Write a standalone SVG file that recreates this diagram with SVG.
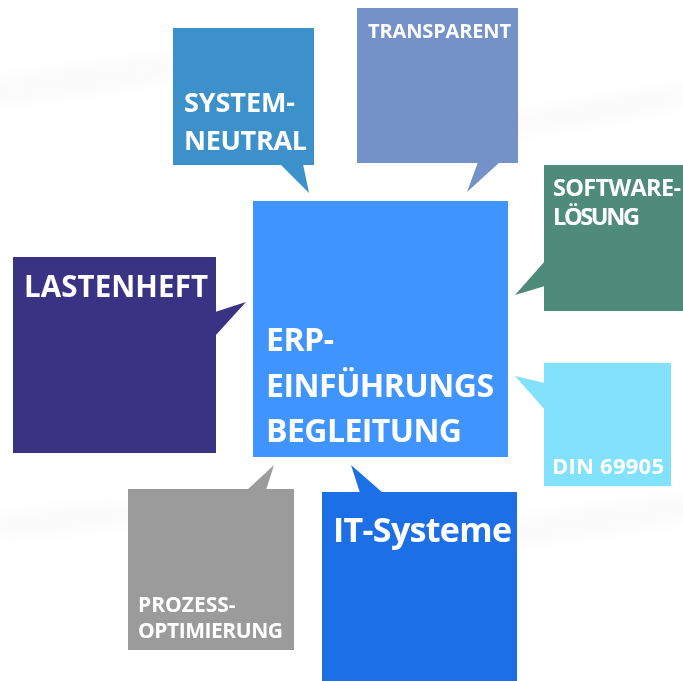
<svg xmlns="http://www.w3.org/2000/svg" width="683" height="681" viewBox="0 0 683 681">
<style>
text{font-family:"Open Sans","Liberation Sans",sans-serif;font-weight:bold;fill:#ffffff}
</style>
<defs>
<filter id="blur" x="-20%" y="-50%" width="140%" height="200%"><feGaussianBlur stdDeviation="10"/></filter>
</defs>
<rect width="683" height="681" fill="#ffffff"/>
<g id="background" filter="url(#blur)" fill="#ececee" opacity="0.35">
<ellipse cx="80" cy="80" rx="120" ry="10" transform="rotate(-8 80 80)"/>
<ellipse cx="600" cy="110" rx="110" ry="8" transform="rotate(-10 600 110)"/>
<ellipse cx="600" cy="520" rx="120" ry="10" transform="rotate(-8 600 520)"/>
<ellipse cx="60" cy="520" rx="100" ry="8" transform="rotate(-6 60 520)"/>
</g>
<g id="connectors">
<polygon points="280,164 303,164 309,193" fill="#3c91cb"/>
<polygon points="478,162 500,162 467,192" fill="#7491c8"/>
<polygon points="545,261 545,286 515,295" fill="#4e8b7b"/>
<polygon points="215,312 215,336 246,302" fill="#3a3383"/>
<polygon points="545,383 545,410 515,376" fill="#82e2fe"/>
<polygon points="247,490 266,490 274,465" fill="#9b9b9b"/>
<polygon points="360,493 383,493 351,465" fill="#1c6fe5"/>
</g>
<g id="center">
<rect x="253" y="201" width="255" height="256" fill="#3f94fe"/>
<text x="266" y="351" font-size="32" textLength="68">ERP-</text>
<text x="266" y="397" font-size="32" textLength="228">EINFÜHRUNGS</text>
<text x="266" y="442" font-size="32" textLength="196">BEGLEITUNG</text>
</g>
<g id="systemneutral">
<rect x="173" y="28" width="141" height="137" fill="#3c91cb"/>
<text x="184" y="112" font-size="27" textLength="111">SYSTEM-</text>
<text x="184" y="150" font-size="27" textLength="123">NEUTRAL</text>
</g>
<g id="transparent">
<rect x="357" y="8" width="161" height="155" fill="#7491c8"/>
<text x="368" y="38" font-size="20" textLength="143">TRANSPARENT</text>
</g>
<g id="softwareloesung">
<rect x="544" y="165" width="139" height="146" fill="#4e8b7b"/>
<text x="553" y="196" font-size="23.5" textLength="128">SOFTWARE-</text>
<text x="553" y="225" font-size="23.5" textLength="87">LÖSUNG</text>
</g>
<g id="lastenheft">
<rect x="13" y="257" width="203" height="196" fill="#3a3383"/>
<text x="24" y="297" font-size="29.5" textLength="184">LASTENHEFT</text>
</g>
<g id="din69905">
<rect x="544" y="363" width="127" height="123" fill="#82e2fe"/>
<text x="552" y="474" font-size="22" textLength="112">DIN 69905</text>
</g>
<g id="prozessoptimierung">
<rect x="128" y="489" width="166" height="161" fill="#9b9b9b"/>
<text x="138" y="612" font-size="21">PROZESS-</text>
<text x="138" y="638" font-size="21" textLength="145">OPTIMIERUNG</text>
</g>
<g id="itsysteme">
<rect x="322" y="492" width="195" height="189" fill="#1c6fe5"/>
<text x="333" y="542" font-size="34" textLength="179">IT-Systeme</text>
</g>
</svg>
